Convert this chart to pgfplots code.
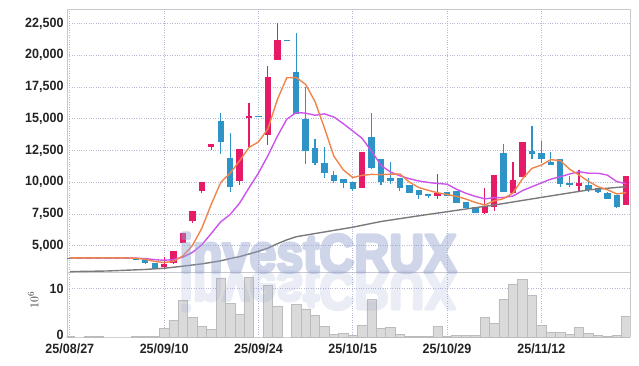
\documentclass[border=0pt]{standalone}
\usepackage{pgfplots}
\pgfplotsset{compat=1.18}
\usepackage{pgfplotstable}
\usepackage{fontspec}
\setmainfont{Liberation Sans}
\newfontfamily\labfont{Liberation Sans Bold}[FakeStretch=0.93]
\newfontfamily\wmfont{Liberation Sans Bold}

\definecolor{candRed}{RGB}{230,27,104}
\definecolor{candBlue}{RGB}{46,148,199}
\definecolor{maOrange}{RGB}{240,132,74}
\definecolor{maPurple}{RGB}{204,84,235}
\definecolor{maGray}{RGB}{122,122,122}
\definecolor{gridc}{RGB}{180,186,214}
\definecolor{framec}{RGB}{200,200,206}
\definecolor{volFill}{RGB}{218,218,218}
\definecolor{volEdge}{RGB}{188,188,188}
\definecolor{wmc}{RGB}{150,163,207}
\definecolor{labc}{RGB}{35,35,35}

\pgfplotstableread{
i o h l c
10 3294 4130 3136 3554
11 3609 4600 3580 4580
12 5234 5990 5200 5976
13 6923 7750 6765 7736
14 9337 10030 9132 10024
15 12762 13010 12548 12998
18 10126 12620 9787 12604
19 15050 16202 12809 15231
21 13756 19176 12943 18285
22 19650 22545 19640 21204
31 9574 12380 9560 12367
39 8919 10655 8706 9156
44 7601 9527 7475 8130
45 8075 10590 7736 10576
47 9132 11578 9120 10181
48 10442 13200 10430 13180
54 9732 10970 9235 9945
59 8185 10510 8170 10497
}\redcandles

\pgfplotstableread{
i o h l c
0 4050 4050 4010 4010
1 4050 4050 4010 4010
2 4050 4050 4010 4010
3 4050 4050 4010 4010
4 4050 4050 4010 4010
5 4050 4050 4010 4010
6 4050 4050 4010 4010
7 3910 3930 3830 3850
8 3925 3930 3578 3657
9 3609 3620 3170 3183
16 14837 15444 12233 13156
17 11917 13913 9235 9653
20 15250 15250 15180 15180
23 21240 21240 21170 21170
24 18703 21756 15350 15365
25 15018 17496 11444 12493
26 12706 13416 11389 11499
27 11546 12762 10316 10757
28 10576 10892 9921 10126
29 10260 10270 9574 9968
30 10024 10030 9337 9471
32 13574 15444 11026 11128
33 11815 11830 9787 10047
34 10363 11625 9842 10126
35 10316 10330 9337 9574
36 9787 9800 9140 9156
37 9369 9380 8706 8998
38 9077 9090 8761 8943
40 9211 9220 8900 8919
41 9314 9330 8380 8390
42 8446 8460 7930 7949
43 8028 8040 7590 7601
46 12312 12998 9240 9258
49 12470 14442 11815 12257
50 12312 13282 11546 11862
51 11602 12367 11380 11389
52 11838 11850 9653 9842
53 9968 10521 9606 9763
55 9763 10316 9235 9392
56 9527 9540 9132 9258
57 9179 9190 8670 8682
58 8998 9010 7996 8075
}\bluecandles

\pgfplotstableread{
i ma5 ma10
0 4030 4030
1 4030 4030
2 4030 4030
3 4030 4030
4 4030 4030
5 4030 4030
6 4030 4030
7 3998 4014
8 3923 3977
9 3754 3892
10 3659 3844
11 3769 3899
12 4190 4094
13 5006 4465
14 6374 5064
15 8263 5961
16 9978 6873
17 10713 7452
18 11687 8346
19 12728 9551
20 13170 10717
21 14196 12087
22 16506 13610
23 18226 14957
24 18253 15491
25 17710 15440
26 16353 15275
27 14264 15385
28 12048 15137
29 10969 14611
30 10364 14037
31 10538 13445
32 10612 12438
33 10596 11322
34 10628 10798
35 10648 10506
36 10006 10272
37 9580 10096
38 9359 9978
39 9165 9897
40 9034 9841
41 8881 9444
42 8671 9126
43 8403 8881
44 8198 8682
45 8529 8782
46 8703 8792
47 9149 8910
48 10265 9334
49 11090 9644
50 11348 9938
51 11774 10238
52 11706 10428
53 11023 10644
54 10560 10825
55 10066 10707
56 9640 10707
57 9408 10557
58 9070 10047
59 9181 9871
}\matable

\pgfplotstableread{
i v
0 0.1
1 0
2 0.1
3 0.1
4 0
5 0
6 0
7 0.05
8 0.1
9 0.15
10 1.8
11 3.5
12 7.6
13 4.1
14 2.2
15 1.6
16 12.2
17 7.0
18 4.6
19 12.3
20 0
21 10.7
22 6.4
23 0
24 6.8
25 5.8
26 4.5
27 2.2
28 0.6
29 0.8
30 0.3
31 2.35
32 7.7
33 1.7
34 1.9
35 0.55
36 0.2
37 0.2
38 0.2
39 2.15
40 0.1
41 0.3
42 0.3
43 0.3
44 4.0
45 2.8
46 7.7
47 10.9
48 11.85
49 8.6
50 2.4
51 1.0
52 1.0
53 0.55
54 1.9
55 0.75
56 0.3
57 0.1
58 0.3
59 4.2
}\voltable

\pgfplotsset{
  tlab/.style={font=\labfont\fontsize{13.5}{13.5}\selectfont, text=labc},
}

% heavy outline-filled text for the watermark (fill + stroke rendering mode)
\newcommand{\heavytext}[1]{\special{pdf:literal direct 2 Tr 3.2 w 1 j}#1\special{pdf:literal direct 0 Tr}}

\begin{document}
\begin{tikzpicture}

% price panel
\begin{axis}[
  name=price,
  at={(0,0)}, anchor=south west,
  width=563bp, height=263bp, scale only axis,
  xmin=-0.3, xmax=59.4, ymin=2920, ymax=23650,
  axis line style={framec, line width=0.8bp},
  xtick={0,10,20,30,40,50}, xticklabels={},
  ytick={5000,7500,10000,12500,15000,17500,20000,22500},
  scaled y ticks=false,
  yticklabel style={tlab},
  /pgf/number format/fixed,
  /pgf/number format/1000 sep={,},
  /pgf/number format/assume math mode=true,
  grid=major, major grid style={gridc, dotted, line width=0.7bp},
  tick style={draw=none},
]
\addplot[draw=none, mark=none, forget plot,
  error bars/.cd, y dir=plus, y explicit, error mark=none,
  error bar style={line width=1.2bp, draw=candRed}]
  table[x=i, y=l, y error plus expr=\thisrow{h}-\thisrow{l}] {\redcandles};
\addplot[draw=none, mark=none, forget plot,
  error bars/.cd, y dir=plus, y explicit, error mark=none,
  error bar style={line width=6.4bp, draw=candRed}]
  table[x=i, y=o, y error plus expr=\thisrow{c}-\thisrow{o}] {\redcandles};
\addplot[draw=none, mark=none, forget plot,
  error bars/.cd, y dir=plus, y explicit, error mark=none,
  error bar style={line width=1.2bp, draw=candBlue}]
  table[x=i, y=l, y error plus expr=\thisrow{h}-\thisrow{l}] {\bluecandles};
\addplot[draw=none, mark=none, forget plot,
  error bars/.cd, y dir=plus, y explicit, error mark=none,
  error bar style={line width=6.4bp, draw=candBlue}]
  table[x=i, y=c, y error plus expr=\thisrow{o}-\thisrow{c}] {\bluecandles};

\addplot[maGray, line width=1.4bp, forget plot] coordinates {
 (0,2950) (4,3000) (8,3120) (10,3215) (12,3380) (14,3560) (16,3800) (17,3980)
 (18,4130) (20,4550) (21,4800) (22,5150) (23,5450) (24,5700) (26,5950)
 (28,6200) (30,6450) (33,6900) (37,7350) (41,7780) (45,8200) (50,8800)
 (55,9390) (59,9650)};
\addplot[maPurple, line width=1.4bp, forget plot] table[x=i, y=ma10] {\matable};
\addplot[maOrange, line width=1.4bp, forget plot] table[x=i, y=ma5] {\matable};
\end{axis}

% volume panel
\begin{axis}[
  name=vol,
  at={(price.south west)}, anchor=north west,
  width=563bp, height=65bp, scale only axis,
  xmin=-0.3, xmax=59.4, ymin=0, ymax=13.4,
  separate axis lines,
  x axis line style={draw=none},
  y axis line style={framec, line width=0.8bp},
  xtick={0,10,20,30,40,50},
  xticklabels={25/08/27,25/09/10,25/09/24,25/10/15,25/10/29,25/11/12},
  xticklabel style={tlab, yshift=-3bp},
  ytick={10}, extra y ticks={0},
  extra y tick style={grid=none, yticklabel style={yshift=2.5bp}},
  yticklabel style={tlab},
  /pgf/number format/assume math mode=true,
  grid=major, major grid style={gridc, dotted, line width=0.7bp},
  tick style={draw=none},
  ylabel={$10^6$},
  ylabel style={at={(axis description cs:-0.06,0.57)}, anchor=center, rotate=0, font=\fontsize{13}{13}\selectfont, text=black!80},
]
\addplot[ybar, bar width=1, fill=volFill, draw=volEdge, line width=0.6bp] table[x=i, y=v] {\voltable};
\end{axis}

% watermark (price.south west is the panel separator)
\coordinate (wm) at ([xshift=251bp]price.south west);
\begin{scope}[transparency group, opacity=0.45]
  \node[anchor=base, xscale=0.9, text=wmc, inner sep=0]
    at (wm) {\wmfont\fontsize{54}{54}\selectfont\heavytext{investCRUX}};
\end{scope}
\begin{scope}[transparency group, opacity=0.2]
  \node[anchor=base, xscale=0.9, yscale=-1, text=wmc, inner sep=0]
    at (wm) {\wmfont\fontsize{54}{54}\selectfont\heavytext{investCRUX}};
\end{scope}

\pgfresetboundingbox
\useasboundingbox ([xshift=-67bp, yshift=-94bp]price.south west) rectangle ([xshift=9bp, yshift=9bp]price.north east);
\end{tikzpicture}
\end{document}
